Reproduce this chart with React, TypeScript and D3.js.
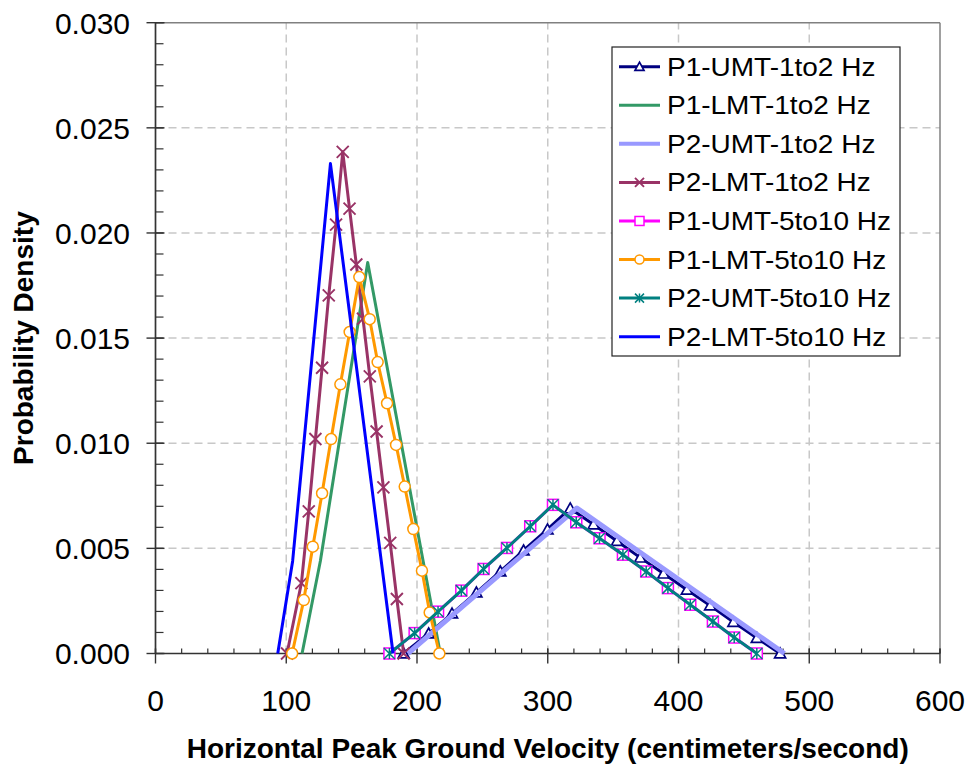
import React from "react";
import * as d3 from "d3";

const xTicks = [0, 100, 200, 300, 400, 500, 600];
const yTicks = [0, 0.005, 0.01, 0.015, 0.02, 0.025, 0.03];

// P1-UMT-1to2 Hz
const p1Umt12X = [189.8, 208.9, 226.8, 245.4, 263.7, 281.5, 299.8, 317.2, 335.0, 352.9, 370.7, 388.5, 406.4, 424.2, 442.0, 459.9, 477.7];
const p1Umt12Y = [0, 0.00095, 0.0019, 0.0029, 0.0039, 0.0049, 0.0059, 0.0069, 0.00614, 0.00535, 0.00456, 0.0038, 0.00303, 0.00228, 0.0015, 0.00074, 0];
// P1-LMT-1to2 Hz
const p1Lmt12X = [112.1, 126.1, 162.3, 217.8];
const p1Lmt12Y = [0, 0.0044, 0.0186, 0];
// P2-UMT-1to2 Hz
const p2Umt12X = [193.0, 322.3, 481.0];
const p2Umt12Y = [0, 0.00692, 0];
// P2-LMT-1to2 Hz
const p2Lmt12X = [100.6, 111.6, 117.2, 122.3, 127.4, 132.5, 138.1, 143.2, 148.4, 153.6, 158.7, 163.9, 169.1, 174.3, 179.5, 184.6, 189.8];
const p2Lmt12Y = [0, 0.00335, 0.00676, 0.0102, 0.01359, 0.01703, 0.0204, 0.02386, 0.02116, 0.0185, 0.01592, 0.01318, 0.01056, 0.0079, 0.00526, 0.00259, 0];
// P1-UMT-5to10 Hz
const p1Umt510X = [178.9, 198.2, 216.1, 233.9, 250.9, 268.8, 286.6, 304.0, 321.8, 339.6, 357.5, 375.3, 391.9, 409.0, 426.3, 442.6, 459.9];
const p1Umt510Y = [0, 0.00097, 0.00199, 0.00299, 0.00402, 0.00502, 0.00605, 0.00707, 0.00624, 0.00548, 0.0047, 0.0039, 0.00311, 0.00232, 0.00152, 0.00076, 0];
// P1-LMT-5to10 Hz
const p1Lmt510X = [104.5, 113.4, 120.3, 127.4, 134.3, 141.4, 148.5, 155.9, 163.8, 169.9, 177.1, 184.0, 190.6, 197.2, 203.8, 209.7, 217.1];
const p1Lmt510Y = [0, 0.00254, 0.00508, 0.00762, 0.0102, 0.0128, 0.01529, 0.0179, 0.0159, 0.01386, 0.0119, 0.00992, 0.00794, 0.00592, 0.00394, 0.00195, 0];
// P2-UMT-5to10 Hz
const p2Umt510X = [178.9, 198.2, 216.1, 233.9, 250.9, 268.8, 286.6, 304.0, 321.8, 339.6, 357.5, 375.3, 391.9, 409.0, 426.3, 442.6, 459.9];
const p2Umt510Y = [0, 0.00097, 0.00199, 0.00299, 0.00402, 0.00502, 0.00605, 0.00707, 0.00624, 0.00548, 0.0047, 0.0039, 0.00311, 0.00232, 0.00152, 0.00076, 0];
// P2-LMT-5to10 Hz
const p2Lmt510X = [93.5, 104.9, 133.8, 181.7];
const p2Lmt510Y = [0, 0.0044, 0.0233, 0];

const seriesNames = [
  "P1-UMT-1to2 Hz",
  "P1-LMT-1to2 Hz",
  "P2-UMT-1to2 Hz",
  "P2-LMT-1to2 Hz",
  "P1-UMT-5to10 Hz",
  "P1-LMT-5to10 Hz",
  "P2-UMT-5to10 Hz",
  "P2-LMT-5to10 Hz",
];

type Marker = "triangle" | "none" | "x" | "square" | "circle" | "star";

const series: { name: string; xs: number[]; ys: number[]; color: string; width: number; marker: Marker }[] = [
  { name: seriesNames[0], xs: p1Umt12X, ys: p1Umt12Y, color: "#000080", width: 3, marker: "triangle" },
  { name: seriesNames[1], xs: p1Lmt12X, ys: p1Lmt12Y, color: "#339966", width: 3, marker: "none" },
  { name: seriesNames[2], xs: p2Umt12X, ys: p2Umt12Y, color: "#9999FF", width: 5, marker: "none" },
  { name: seriesNames[3], xs: p2Lmt12X, ys: p2Lmt12Y, color: "#993366", width: 3, marker: "x" },
  { name: seriesNames[4], xs: p1Umt510X, ys: p1Umt510Y, color: "#FF00FF", width: 3, marker: "square" },
  { name: seriesNames[5], xs: p1Lmt510X, ys: p1Lmt510Y, color: "#FF9900", width: 3, marker: "circle" },
  { name: seriesNames[6], xs: p2Umt510X, ys: p2Umt510Y, color: "#008080", width: 3, marker: "star" },
  { name: seriesNames[7], xs: p2Lmt510X, ys: p2Lmt510Y, color: "#0000FF", width: 3, marker: "none" },
];

const FONT = "Arial, 'Liberation Sans', Helvetica, sans-serif";

function MarkerShape({ type, x, y, color, s }: { type: Marker; x: number; y: number; color: string; s: number }) {
  const r = s / 2;
  const sw = 1.5;
  if (type === "triangle") {
    return (
      <path
        d={`M${x},${y - r}L${x + r},${y + r * 0.8}L${x - r},${y + r * 0.8}Z`}
        fill="white"
        stroke={color}
        strokeWidth={sw + 0.2}
      />
    );
  }
  if (type === "square") {
    return <rect x={x - r} y={y - r} width={s} height={s} fill="white" stroke={color} strokeWidth={sw} />;
  }
  if (type === "circle") {
    return <circle cx={x} cy={y} r={r} fill="white" stroke={color} strokeWidth={sw} />;
  }
  if (type === "x") {
    return (
      <path d={`M${x - r},${y - r}L${x + r},${y + r}M${x - r},${y + r}L${x + r},${y - r}`} stroke={color} strokeWidth={sw + 0.4} fill="none" />
    );
  }
  if (type === "star") {
    return (
      <path
        d={`M${x - r},${y - r}L${x + r},${y + r}M${x - r},${y + r}L${x + r},${y - r}M${x},${y - r}L${x},${y + r}`}
        stroke={color}
        strokeWidth={sw}
        fill="none"
      />
    );
  }
  return null;
}

export default function App() {
  const W = 966;
  const H = 765;
  const x = d3.scaleLinear().domain([0, 600]).range([155.5, 940]);
  const y = d3.scaleLinear().domain([0, 0.03]).range([653.5, 22.7]);
  const line = d3
    .line<[number, number]>()
    .x((d) => x(d[0]))
    .y((d) => y(d[1]));

  const xMinor = d3.range(0, 600.001, 20);
  const yMinor = d3.range(0, 0.03001, 0.001);

  const legendX = 612;
  const legendY = 47;
  const legendW = 288;
  const legendH = 309;
  const rowY0 = 66.7;
  const rowStep = 38.57;

  return (
    <svg width={W} height={H} style={{ position: "absolute", left: 0, top: 0, background: "white" }} fontFamily={FONT}>
      <rect x={0} y={0} width={W} height={H} fill="white" />
      {yTicks
        .filter((t) => t > 0 && t < 0.03)
        .map((t) => (
          <line key={"gy" + t} x1={x(0)} x2={x(600)} y1={y(t)} y2={y(t)} stroke="#c8c8c8" strokeWidth={1.5} strokeDasharray="8,5" />
        ))}
      {xTicks
        .filter((t) => t > 0 && t < 600)
        .map((t) => (
          <line key={"gx" + t} x1={x(t)} x2={x(t)} y1={y(0)} y2={y(0.03)} stroke="#c8c8c8" strokeWidth={1.5} strokeDasharray="8,5" />
        ))}
      <line x1={x(0)} x2={x(600)} y1={y(0.03)} y2={y(0.03)} stroke="#808080" strokeWidth={1.5} />
      <line x1={x(600)} x2={x(600)} y1={y(0.03)} y2={y(0)} stroke="#808080" strokeWidth={1.5} />

      <line x1={x(0)} x2={x(0)} y1={y(0.03)} y2={y(0)} stroke="#333" strokeWidth={1.7} />
      <line x1={x(0)} x2={x(600)} y1={y(0)} y2={y(0)} stroke="#333" strokeWidth={1.7} />
      {yMinor.map((t, i) => (
        <line key={"ym" + i} x1={x(0)} x2={x(0) + 8} y1={y(t)} y2={y(t)} stroke="#333" strokeWidth={1.2} />
      ))}
      {yTicks.map((t) => (
        <line key={"yt" + t} x1={x(0) - 9} x2={x(0) + 9} y1={y(t)} y2={y(t)} stroke="#333" strokeWidth={1.4} />
      ))}
      {xMinor.map((t, i) => (
        <line key={"xm" + i} x1={x(t)} x2={x(t)} y1={y(0) - 5} y2={y(0)} stroke="#333" strokeWidth={1.2} />
      ))}
      {xTicks.map((t) => (
        <line key={"xt" + t} x1={x(t)} x2={x(t)} y1={y(0) - 5} y2={y(0) + 10} stroke="#333" strokeWidth={1.4} />
      ))}
      {yTicks.map((t) => (
        <text key={"yl" + t} x={130} y={y(t)} dy="0.36em" textAnchor="end" fontSize={30} fill="#000">
          {d3.format(".3f")(t)}
        </text>
      ))}
      {xTicks.map((t) => (
        <text key={"xl" + t} x={x(t)} y={711} textAnchor="middle" fontSize={30} fill="#000">
          {t}
        </text>
      ))}
      <text x={(x(0) + x(600)) / 2} y={758} textAnchor="middle" fontSize={28} fontWeight="bold" fill="#000">
        Horizontal Peak Ground Velocity (centimeters/second)
      </text>
      <text
        transform={`translate(33,${(y(0) + y(0.03)) / 2}) rotate(-90)`}
        textAnchor="middle"
        fontSize={28}
        fontWeight="bold"
        fill="#000"
      >
        Probability Density
      </text>

      {series.map((s) => {
        const pts: [number, number][] = s.xs.map((v, i) => [v, s.ys[i]]);
        return (
          <g key={s.name}>
            <path d={line(pts) || ""} fill="none" stroke={s.color} strokeWidth={s.width} strokeLinejoin="round" />
            {s.marker !== "none" &&
              pts.map((p, i) => (
                <MarkerShape key={i} type={s.marker} x={x(p[0])} y={y(p[1])} color={s.color} s={s.marker === "x" ? 12 : s.marker === "circle" ? 11 : 11} />
              ))}
          </g>
        );
      })}

      <rect x={legendX} y={legendY} width={legendW} height={legendH} fill="white" stroke="#222" strokeWidth={1.2} />
      {series.map((s, i) => {
        const ry = rowY0 + i * rowStep;
        return (
          <g key={"lg" + i}>
            <line x1={619} x2={660} y1={ry} y2={ry} stroke={s.color} strokeWidth={s.width === 5 ? 4 : 3} />
            {s.marker !== "none" && <MarkerShape type={s.marker} x={639.5} y={ry} color={s.color} s={9} />}
            <text transform={`translate(667,${ry}) scale(1.12,1)`} dy="0.36em" fontSize={25} fill="#000">
              {s.name}
            </text>
          </g>
        );
      })}
    </svg>
  );
}
